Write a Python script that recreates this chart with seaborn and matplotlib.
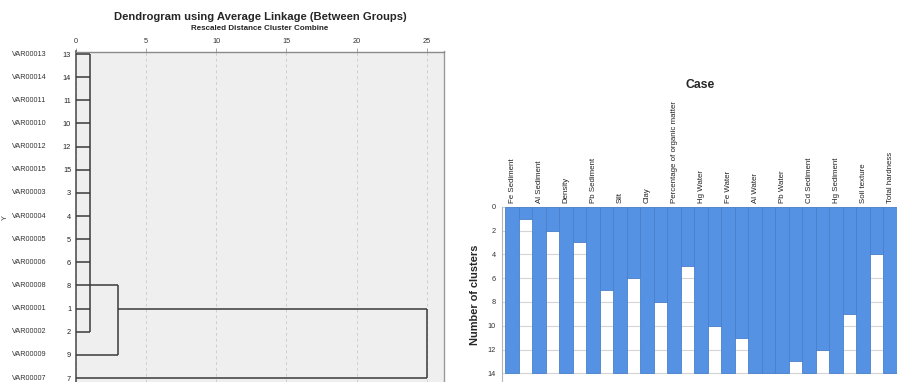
import matplotlib
matplotlib.use("Agg")
import matplotlib.pyplot as plt
import matplotlib.transforms as mtransforms
import pandas as pd
import seaborn as sns

# ---------------- dendrogram data ----------------
leaf_names = ["VAR00013", "VAR00014", "VAR00011", "VAR00010", "VAR00012",
              "VAR00015", "VAR00003", "VAR00004", "VAR00005", "VAR00006",
              "VAR00008", "VAR00001", "VAR00002", "VAR00009", "VAR00007"]
leaf_numbers = [13, 14, 11, 10, 12, 15, 3, 4, 5, 6, 8, 1, 2, 9, 7]

# agglomeration steps on the rescaled 0-25 distance scale
merge_distance = [1.0, 3.0, 25.0]
merge_new_leaves = [
    [13, 14, 11, 10, 12, 15, 3, 4, 5, 6, 8, 1, 2],
    [9],
    [7],
]
# leaf row on which each merged cluster continues to the next step
merge_link_leaf = [8, 1, None]

distance_ticks = [0, 5, 10, 15, 20, 25]

# ---------------- icicle data ----------------
case_names = ["Fe Sediment", "Al Sediment", "Density", "Pb Sediment", "Silt",
              "Clay", "Percentage of organic matter", "Hg Water", "Fe Water",
              "Al Water", "Pb Water", "Cd Sediment", "Hg Sediment",
              "Soil texture", "Total hardness"]
# number of clusters down to which each neighbouring pair stays joined
pair_join_depth = [1, 2, 3, 7, 6, 8, 5, 10, 11, 14, 13, 12, 9, 4]
max_clusters = 14
cluster_ticks = [0, 2, 4, 6, 8, 10, 12, 14]

# ---------------- styling ----------------
sns.set_style("white")
plt.rcParams["font.family"] = ["Liberation Sans", "DejaVu Sans"]

W, H = 897, 382
fig = plt.figure(figsize=(W / 100, H / 100), dpi=100)


def fig_box(x0, y0, x1, y1):
    return [x0 / W, 1 - y1 / H, (x1 - x0) / W, (y1 - y0) / H]


# ================= dendrogram =================
ax = fig.add_axes(fig_box(75.5, 51.5, 444.3, 382))
ax.set_facecolor("#efefef")

row_of = {num: i for i, num in enumerate(leaf_numbers)}
line_kw = dict(color="#3a3a3a", lw=1.1, solid_capstyle="butt", zorder=3)

prev_link_row = None
for step, d in enumerate(merge_distance):
    rows = [row_of[n] for n in merge_new_leaves[step]]
    for r in rows:
        ax.plot([0, d], [r, r], **line_kw)
    span = rows + ([prev_link_row] if prev_link_row is not None else [])
    ax.plot([d, d], [min(span), max(span)], **line_kw)
    if prev_link_row is not None:
        ax.plot([merge_distance[step - 1], d], [prev_link_row, prev_link_row], **line_kw)
    link = merge_link_leaf[step]
    prev_link_row = row_of[link] if link is not None else None

ax.set_xlim(-0.02, 26.25)
ax.set_ylim(14.17, -0.11)
ax.xaxis.tick_top()
ax.set_xticks(distance_ticks)
ax.set_xticklabels([str(t) for t in distance_ticks], fontsize=5.3, color="#333333")
ax.tick_params(axis="x", length=3, width=0.6, color="#999999", pad=1.5)
ax.set_yticks(range(len(leaf_numbers)))
ax.set_yticklabels([str(n) for n in leaf_numbers], fontsize=5.3, color="#222222")
ax.tick_params(axis="y", length=2, width=0.8, color="#444444", pad=1.2)
ax.grid(axis="x", color="#cfcfcf", lw=0.7, ls=(0, (3, 3)), zorder=0)
ax.grid(axis="y", visible=False)
for side, col, lw in [("left", "#555555", 1.2), ("top", "#8a8a8a", 1.0),
                      ("right", "#9a9a9a", 1.0)]:
    ax.spines[side].set_color(col)
    ax.spines[side].set_linewidth(lw)
ax.spines["bottom"].set_visible(False)

name_tr = mtransforms.blended_transform_factory(fig.transFigure, ax.transData)
for i, name in enumerate(leaf_names):
    ax.text(12 / W, i, name, transform=name_tr, ha="left", va="center",
            fontsize=5.2, color="#333333")

fig.text(5 / W, 1 - 218 / H, "Y", rotation=90, ha="center", va="center",
         fontsize=5.2, color="#333333")
fig.text(260 / W, 1 - 16.5 / H, "Dendrogram using Average Linkage (Between Groups)",
         ha="center", va="center", fontsize=8.1, fontweight="bold")
fig.text(260 / W, 1 - 29 / H, "Rescaled Distance Cluster Combine",
         ha="center", va="center", fontsize=5.8, fontweight="bold")

# ================= icicle plot =================
ax2 = fig.add_axes(fig_box(501.7, 206.7, 897, 382))

slots, depth = [], []
for i, name in enumerate(case_names):
    slots.append(name)
    depth.append(max_clusters)
    if i < len(pair_join_depth):
        slots.append(f"{name} | {case_names[i + 1]}")
        depth.append(pair_join_depth[i])
icicle = pd.DataFrame({"slot": slots, "depth": depth})

sns.barplot(data=icicle, x="slot", y="depth", order=slots, color="#5592e3",
            saturation=1, width=1.0, edgecolor="#4a80cc", linewidth=0.6, ax=ax2)
for bar in ax2.patches:
    bar.set_zorder(3)

ax2.set_xlim(-0.767, 28.5)
ax2.set_ylim(14.73, 0)
ax2.set_yticks(cluster_ticks)
ax2.set_yticklabels([str(t) for t in cluster_ticks], fontsize=5.3, color="#333333")
ax2.tick_params(axis="y", length=0, pad=4)
ax2.grid(axis="y", color="#d4d4d4", lw=0.8, zorder=0)
ax2.grid(axis="x", visible=False)

ax2.xaxis.tick_top()
ax2.set_xticks(range(0, len(slots), 2))
ax2.set_xticklabels(case_names, rotation=90, fontsize=5.7, color="#222222",
                    ha="center", va="bottom")
ax2.tick_params(axis="x", length=0, pad=2.5)
ax2.set_xlabel("")
ax2.set_ylabel("Number of clusters", fontsize=7.9, fontweight="bold", labelpad=6)
for side in ("top", "right", "bottom"):
    ax2.spines[side].set_visible(False)
ax2.spines["left"].set_color("#b5b5b5")
ax2.spines["left"].set_linewidth(0.8)
ax2.spines["left"].set_zorder(4)

fig.text(700 / W, 1 - 85 / H, "Case", ha="center", va="center",
         fontsize=8.8, fontweight="bold")

fig.savefig("out.png", dpi=100)
